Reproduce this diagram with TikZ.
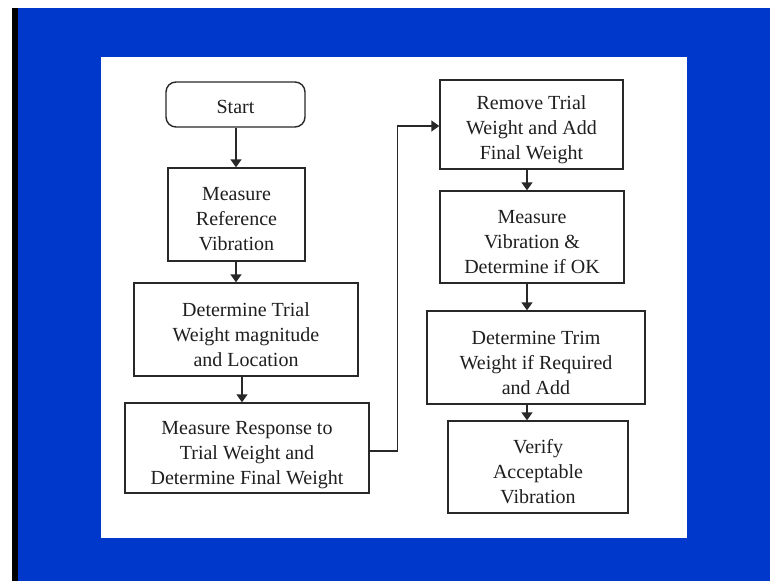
\documentclass[tikz,border=0pt]{standalone}
\usepackage{fontspec}
\setmainfont{Liberation Serif}
\usetikzlibrary{arrows.meta}
\definecolor{slideblue}{RGB}{0,56,204}
\definecolor{inkc}{RGB}{40,40,40}
\begin{document}
\begin{tikzpicture}[x=1pt,y=-1pt,
  box/.style={draw=inkc,line width=1.4pt,fill=white,inner sep=0pt},
  txt/.style={align=center,inner sep=0pt,yshift=-5pt,
    font=\fontsize{20}{25}\selectfont,text=black!88},
  conn/.style={draw=inkc,line width=1.4pt,-{Triangle[width=11pt,length=8pt]}}]
\useasboundingbox (0,0) rectangle (770,581);
\fill[white] (0,0) rectangle (770,581);
\fill[slideblue] (18,8) rectangle (770,581);
\fill[black] (12,8) rectangle (18,581);
\fill[white] (101,57) rectangle (687,538);
% nodes
\node[box,rounded corners=10pt,minimum width=139pt,minimum height=45pt,
  label={[txt,yshift=3pt]center:Start}] (start) at (235.5,104.5) {};
\node[box,minimum width=137pt,minimum height=93pt,
  label={[txt]center:Measure\\Reference\\Vibration}] (mr) at (236.5,214.5) {};
\node[box,minimum width=224pt,minimum height=93pt,
  label={[txt]center:Determine Trial\\Weight magnitude\\and Location}] (dt) at (246,329.5) {};
\node[box,minimum width=244pt,minimum height=90pt,
  label={[txt,yshift=-2pt]center:Measure Response to\\Trial Weight and\\Determine Final Weight}] (mrt) at (247,448) {};
\node[box,minimum width=183pt,minimum height=89pt,
  label={[txt]center:Remove Trial\\Weight and Add\\Final Weight}] (rem) at (531.5,124.5) {};
\node[box,minimum width=184pt,minimum height=92pt,
  label={[txt]center:Measure\\Vibration \&\\Determine if OK}] (mv) at (532,237) {};
\node[box,minimum width=218pt,minimum height=93pt,
  label={[txt]center:Determine Trim\\Weight if Required\\and Add}] (dtr) at (536,357.5) {};
\node[box,minimum width=180pt,minimum height=92pt,
  label={[txt]center:Verify\\Acceptable\\Vibration}] (ver) at (538,467) {};
% connectors
\draw[conn] ([xshift=0.5pt]start.south) -- ([xshift=0.5pt]start.south |- mr.north);
\draw[conn] ([xshift=-0.5pt]mr.south) -- ([xshift=-0.5pt]mr.south |- dt.north);
\draw[conn] ([xshift=-4pt]dt.south) -- ([xshift=-4pt]dt.south |- mrt.north);
\draw[conn] ([yshift=-3pt]mrt.east) -- ++(28,0) |- ([yshift=-1.5pt]rem.west);
\draw[conn] ([xshift=-4.5pt]rem.south) -- ([xshift=-4.5pt]rem.south |- mv.north);
\draw[conn] ([xshift=-5pt]mv.south) -- ([xshift=-5pt]mv.south |- dtr.north);
\draw[conn] ([xshift=-9pt]dtr.south) -- ([xshift=-9pt]dtr.south |- ver.north);
\end{tikzpicture}
\end{document}
